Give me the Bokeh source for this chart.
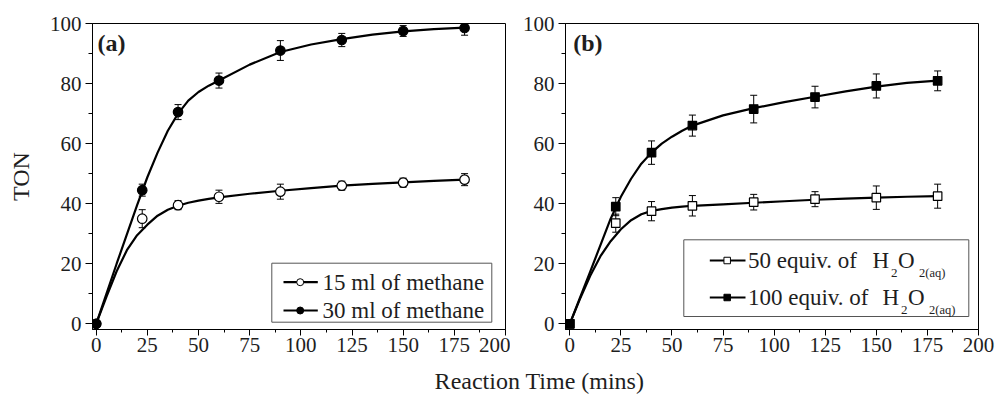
from bokeh.plotting import figure
from bokeh.models import (ColumnDataSource, Whisker, TeeHead, SingleIntervalTicker,
                          Label, BoxAnnotation, Range1d)
from bokeh.layouts import row, column
from bokeh.embed import file_html
from bokeh.resources import INLINE

# ---------------- data ----------------
time = [0, 22.5, 40, 60, 90, 120, 150, 180]

ton_15ml = [0, 35, 39.5, 42.3, 44, 46, 47, 48]
err_15ml = [0, 3, 1.5, 2.2, 2.5, 1.5, 1.5, 2]
ton_30ml = [0, 44.5, 70.5, 81, 91, 94.5, 97.5, 98.5]
err_30ml = [0, 2, 2.5, 2.5, 3.3, 2.2, 1.8, 2.4]

ton_50eq = [0, 33.5, 37.5, 39.3, 40.5, 41.5, 42, 42.5]
err_50eq = [0, 3, 3.2, 3.4, 2.6, 2.5, 3.9, 4]
ton_100eq = [0, 39, 57, 66, 71.5, 75.5, 79.2, 80.9]
err_100eq = [0, 3, 3.9, 3.5, 4.6, 3.6, 4, 3.3]

# fitted curves
fit_time = [0, 5, 10, 15, 20, 25, 30, 35, 40, 45, 50, 55, 60, 75, 90, 105, 120, 135, 150, 165, 180]
fit_15ml = [0, 9, 17.5, 24.5, 29.5, 33, 36, 38, 39.3, 40.3, 41, 41.6, 42.1, 43.3, 44.3, 45.2, 46, 46.6, 47.1, 47.6, 48]
fit_30ml = [0, 10, 20, 29.8, 39.5, 48.8, 57, 64.3, 70, 74.3, 77.2, 79.3, 81, 86.3, 90.5, 93, 94.8, 96.3, 97.4, 98.1, 98.6]
fit_50eq = [0, 8.3, 16, 22.5, 27.5, 31.5, 34.5, 36.5, 37.6, 38.2, 38.7, 39.0, 39.3, 39.8, 40.3, 40.8, 41.3, 41.7, 42, 42.3, 42.5]
fit_100eq = [0, 8.7, 17.4, 26.2, 35, 42.3, 48.3, 53.3, 57, 60, 62.3, 64.3, 66, 69.4, 71.8, 73.8, 75.6, 77.4, 79, 80.2, 81]

x_ticks_interval = 25
y_ticks_interval = 20
label_a = "(a)"
label_b = "(b)"
legend_a = ["15 ml of methane", "30 ml of methane"]
legend_b_main = ["50 equiv. of", "100 equiv. of"]
x_title = "Reaction Time (mins)"
y_title = "TON"

# ---------------- layout ----------------
FONT = "Liberation Serif"
TXT = "#1e1e1e"
TOP_H = 367
FRAME_TOP, FRAME_BOT = 23, 329
FRAME_W = 413
Y0, Y1 = -1.9, 100


def make_panel(width, left, right, x0, ylabel=None):
    p = figure(width=width, height=TOP_H, x_range=Range1d(x0, 200), y_range=Range1d(Y0, Y1),
               output_backend="svg", toolbar_location=None,
               min_border_left=left, min_border_right=right,
               min_border_top=FRAME_TOP, min_border_bottom=TOP_H - FRAME_BOT)
    p.grid.visible = False
    p.outline_line_color = "black"
    p.outline_line_width = 1
    p.outline_line_alpha = 1
    p.xaxis.ticker = SingleIntervalTicker(interval=x_ticks_interval, num_minor_ticks=2)
    p.yaxis.ticker = SingleIntervalTicker(interval=y_ticks_interval, num_minor_ticks=2)
    for ax in (p.xaxis, p.yaxis):
        ax.axis_line_color = "black"
        ax.major_tick_line_color = "black"
        ax.minor_tick_line_color = "black"
        ax.major_tick_in = 0
        ax.minor_tick_in = 0
        ax.major_label_text_font = FONT
        ax.major_label_text_font_size = "21px"
        ax.major_label_text_color = TXT
    p.xaxis.major_tick_out = 6
    p.xaxis.minor_tick_out = 3
    p.xaxis.major_label_standoff = 2
    p.yaxis.major_tick_out = 7
    p.yaxis.minor_tick_out = 4
    p.yaxis.major_label_standoff = 4
    if ylabel:
        p.yaxis.axis_label = ylabel
        p.yaxis.axis_label_text_font = FONT
        p.yaxis.axis_label_text_font_size = "24px"
        p.yaxis.axis_label_text_font_style = "normal"
        p.yaxis.axis_label_text_color = TXT
        p.yaxis.axis_label_standoff = 13
    return p


def xmap(px, left, x0):
    return x0 + (px - left) * (200 - x0) / FRAME_W


def ymap(py):
    return Y0 + (FRAME_BOT - py) * (Y1 - Y0) / (FRAME_BOT - FRAME_TOP)


def add_series(p, y, err, fit, marker, size, filled):
    src = ColumnDataSource(dict(x=time, y=y,
                                upper=[a + b for a, b in zip(y, err)],
                                lower=[a - b for a, b in zip(y, err)]))
    w = Whisker(base="x", upper="upper", lower="lower", source=src, dimension="height",
                level="underlay", line_color="black", line_width=1,
                upper_head=TeeHead(size=7, line_color="black", line_width=1),
                lower_head=TeeHead(size=7, line_color="black", line_width=1))
    p.add_layout(w)
    p.line(fit_time, fit, line_color="black", line_width=2.2)
    p.scatter("x", "y", source=src, marker=marker, size=size, line_color="black",
              line_width=1.2, fill_color="black" if filled else "white")


def text_label(p, x, y, text, size, style="normal", align="left"):
    p.add_layout(Label(x=x, y=y, text=text, text_font=FONT, text_font_size=size,
                       text_font_style=style, text_color=TXT, text_baseline="middle",
                       text_align=align))


# ---------------- panel (a) ----------------
A_LEFT, A_X0 = 92, -1.8
pa = make_panel(510, A_LEFT, 510 - A_LEFT - FRAME_W, A_X0, ylabel=y_title)
add_series(pa, ton_15ml, err_15ml, fit_15ml, "circle", 9.5, False)
add_series(pa, ton_30ml, err_30ml, fit_30ml, "circle", 9.5, True)
text_label(pa, xmap(97, A_LEFT, A_X0), ymap(42), label_a, "24px", "bold")

pa.add_layout(BoxAnnotation(left=xmap(271.3, A_LEFT, A_X0), right=xmap(491.3, A_LEFT, A_X0),
                            top=ymap(262.7), bottom=ymap(321.7), fill_alpha=0,
                            line_color="#555555", line_width=1, line_alpha=1))
for i, (rowy, filled) in enumerate([(281.7, False), (310, True)]):
    yy = ymap(rowy)
    pa.line([xmap(283, A_LEFT, A_X0), xmap(317.3, A_LEFT, A_X0)], [yy, yy],
            line_color="black", line_width=2.2)
    pa.scatter([xmap(299.7, A_LEFT, A_X0)], [yy], marker="circle", size=7,
               line_color="black", fill_color="black" if filled else "white")
    text_label(pa, xmap(322, A_LEFT, A_X0), yy, legend_a[i], "23px")

# ---------------- panel (b) ----------------
B_LEFT_ABS, B_X0 = 565, -2.1
B_MIN_LEFT = B_LEFT_ABS - 510
pb = make_panel(490, B_MIN_LEFT, 490 - B_MIN_LEFT - FRAME_W, B_X0)
add_series(pb, ton_50eq, err_50eq, fit_50eq, "square", 8.5, False)
add_series(pb, ton_100eq, err_100eq, fit_100eq, "square", 8.5, True)
text_label(pb, xmap(572.7, B_LEFT_ABS, B_X0), ymap(42), label_b, "24px", "bold")

pb.add_layout(BoxAnnotation(left=xmap(683.3, B_LEFT_ABS, B_X0), right=xmap(968.3, B_LEFT_ABS, B_X0),
                            top=ymap(239.3), bottom=ymap(316), fill_alpha=0,
                            line_color="#555555", line_width=1, line_alpha=1))
b_rows = [
    dict(py=260, filled=False, h=872, s1=890.5, o=897.5, s2=918.5),
    dict(py=297, filled=True, h=882, s1=900.5, o=907.5, s2=928.5),
]
for i, r in enumerate(b_rows):
    yy = ymap(r["py"])
    ys = ymap(r["py"] + 12)
    pb.line([xmap(709.3, B_LEFT_ABS, B_X0), xmap(745, B_LEFT_ABS, B_X0)], [yy, yy],
            line_color="black", line_width=2.2)
    pb.scatter([xmap(726.7, B_LEFT_ABS, B_X0)], [yy], marker="square", size=6.5,
               line_color="black", fill_color="black" if r["filled"] else "white")
    text_label(pb, xmap(747.5, B_LEFT_ABS, B_X0), yy, legend_b_main[i], "23px")
    text_label(pb, xmap(r["h"], B_LEFT_ABS, B_X0), yy, "H", "23px")
    text_label(pb, xmap(r["s1"], B_LEFT_ABS, B_X0), ys, "2", "13px")
    text_label(pb, xmap(r["o"], B_LEFT_ABS, B_X0), yy, "O", "23px")
    text_label(pb, xmap(r["s2"], B_LEFT_ABS, B_X0), ys, "2(aq)", "12.5px")

# ---------------- shared x-axis title ----------------
LBL_H = 398 - TOP_H
pl = figure(width=1000, height=LBL_H, x_range=Range1d(0, 1000), y_range=Range1d(0, LBL_H),
            output_backend="svg", toolbar_location=None, min_border=0)
pl.axis.visible = False
pl.grid.visible = False
pl.outline_line_color = None
pl.add_layout(Label(x=539, y=LBL_H - (380 - TOP_H), text=x_title, text_font=FONT,
                    text_font_size="24px", text_color=TXT, text_align="center",
                    text_baseline="middle"))

layout = column(row(pa, pb), pl)
open("out.html", "w").write(file_html(layout, INLINE))
